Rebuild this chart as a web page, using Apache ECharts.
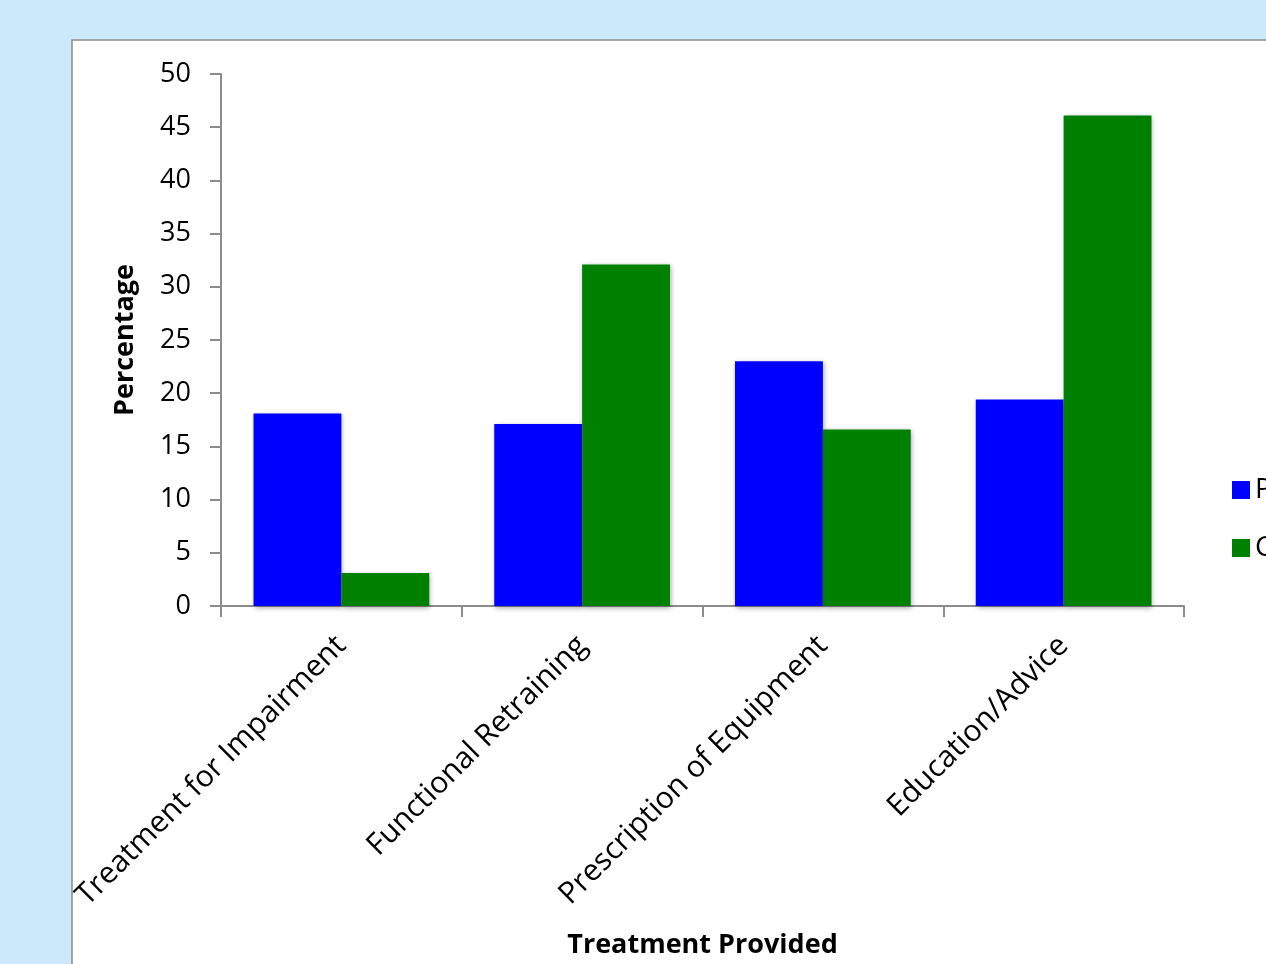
<!DOCTYPE html>
<html>
<head>
<meta charset="utf-8">
<script src="https://cdn.jsdelivr.net/npm/echarts@6/dist/echarts.min.js"></script>
<style>
  html, body { margin: 0; padding: 0; background: #cce9fb; }
  #chart { width: 1266px; height: 964px; }
</style>
</head>
<body>
<div id="chart"></div>
<script>
// data
const categories = ['Treatment for Impairment', 'Functional Retraining', 'Prescription of Equipment', 'Education/Advice']
const seriesNames = ['Primary care', 'Community care']
const firstValues = [18.1, 17.1, 23.0, 19.4]
const secondValues = [3.1, 32.1, 16.6, 46.1]
const colors = ['#0000ff', '#008000']

const font = '"Open Sans", "DejaVu Sans", sans-serif'
const axisGray = '#8c8c8c'

let chart = echarts.init(document.getElementById('chart'), null, { renderer: 'canvas' })

let barStyle = (color) => ({
    color: color,
    shadowColor: 'rgba(0,0,0,0.35)',
    shadowBlur: 5,
    shadowOffsetX: 1,
    shadowOffsetY: 2,
})

chart.setOption({
    backgroundColor: '#cce9fb',
    animation: false,
    graphic: [{
        type: 'rect',
        z: -10,
        shape: { x: 72, y: 40, width: 1300, height: 1000 },
        style: { fill: '#ffffff', stroke: '#8a8a8a', lineWidth: 1.5 },
    }],
    grid: { left: 221, right: 82, top: 74, bottom: 357 },
    legend: {
        orient: 'vertical',
        left: 1232,
        top: 476,
        padding: 0,
        itemGap: 30,
        itemWidth: 18,
        itemHeight: 18,
        icon: 'rect',
        textStyle: { fontFamily: font, fontSize: 28, color: '#000' },
        data: seriesNames,
    },
    xAxis: {
        type: 'category',
        data: categories,
        name: 'Treatment Provided',
        nameLocation: 'middle',
        nameGap: 326,
        nameTextStyle: { fontFamily: font, fontSize: 27, fontWeight: 'bold', color: '#000' },
        axisLine: { lineStyle: { color: axisGray, width: 2 } },
        axisTick: { show: true, length: 11, lineStyle: { color: axisGray, width: 2 } },
        axisLabel: { rotate: 45, margin: 35, fontFamily: font, fontSize: 30, color: '#000', interval: 0 },
    },
    yAxis: {
        type: 'value',
        min: 0,
        max: 50,
        interval: 5,
        name: 'Percentage',
        nameLocation: 'middle',
        nameGap: 82,
        nameTextStyle: { fontFamily: font, fontSize: 27, fontWeight: 'bold', color: '#000' },
        axisLine: { show: true, lineStyle: { color: axisGray, width: 2 } },
        axisTick: { show: true, length: 11, lineStyle: { color: axisGray, width: 2 } },
        axisLabel: { margin: 30, fontFamily: font, fontSize: 27, color: '#000' },
        splitLine: { show: false },
    },
    series: [
        {
            name: seriesNames[0],
            type: 'bar',
            data: firstValues,
            barGap: '0%',
            barCategoryGap: '27%',
            itemStyle: barStyle(colors[0]),
        },
        {
            name: seriesNames[1],
            type: 'bar',
            data: secondValues,
            barGap: '0%',
            barCategoryGap: '27%',
            itemStyle: barStyle(colors[1]),
        },
    ],
})
</script>
</body>
</html>
